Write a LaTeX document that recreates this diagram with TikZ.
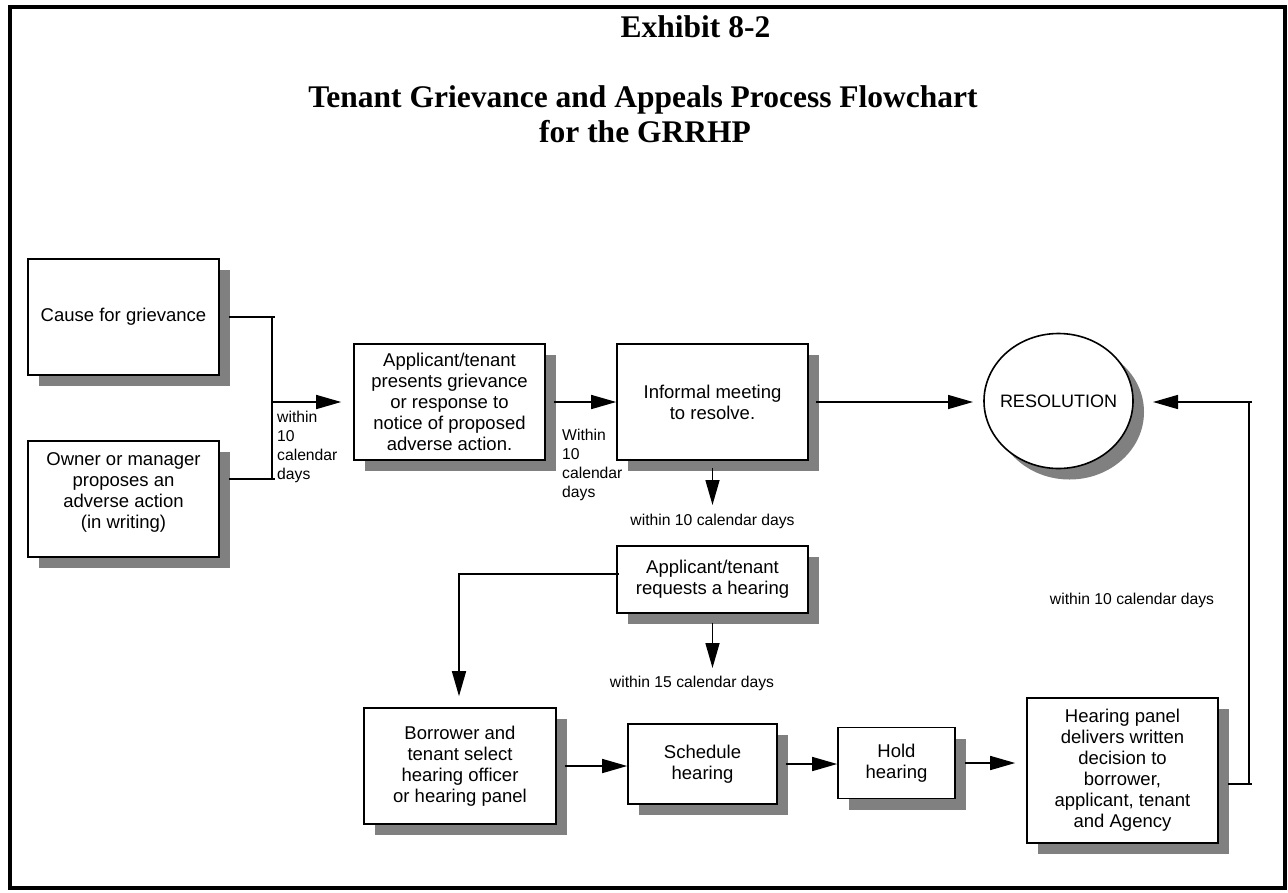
\documentclass[tikz,border=0pt]{standalone}
\usepackage{fontspec}
\setmainfont{Liberation Sans}
\newfontfamily\titlefont{Liberation Serif}
\usetikzlibrary{shadows,arrows.meta,shapes.geometric}
\definecolor{shgray}{RGB}{128,128,128}
\begin{document}
\begin{tikzpicture}[x=1pt,y=-1pt,
  boxbase/.style={draw, line width=1.6pt, fill=white, align=center, inner sep=2pt,
    font=\fontsize{18.5}{21}\selectfont,
    drop shadow={shadow xshift=11pt, shadow yshift=-11pt, fill=shgray, opacity=1, draw=none}},
  box/.style={boxbase, rectangle},
  lbl/.style={inner sep=0pt, font=\fontsize{15.7}{19}\selectfont},
  ttl/.style={inner sep=0pt, font=\titlefont\bfseries\fontsize{31.5}{36}\selectfont},
  conn/.style={line width=1.5pt},
  arr/.style={conn, -{Triangle[length=25pt,width=14pt]}}]
\useasboundingbox (0,0) rectangle (1288,892);
\draw[line width=3.5pt] (10,7) rectangle (1285,888);

% titles
\node[ttl] (t1) at (695.5,27) {Exhibit 8-2};
\node[ttl] (t2) at (643,100) {Tenant Grievance and Appeals Process Flowchart};
\node[ttl] (t3) at (645,132) {for the GRRHP};

% boxes
\node[box, minimum width=191pt, minimum height=116pt] (cause) at (123.5,317) {Cause for grievance};
\node[box, minimum width=191pt, minimum height=116pt] (owner) at (123.5,499) {Owner or manager\\proposes an\\adverse action\\(in writing)\\[-5pt]\mbox{}};
\node[box, minimum width=191pt, minimum height=116pt] (applicant) at (449.5,402) {Applicant/tenant\\presents grievance\\or response to\\notice of proposed\\adverse action.};
\node[box, minimum width=191pt, minimum height=116pt] (informal) at (712.5,402) {Informal meeting\\to resolve.};
\node[boxbase, ellipse, inner xsep=-30pt, inner ysep=0pt, minimum width=149pt, minimum height=135pt, font=\fontsize{18}{21}\selectfont] (resolution) at (1058.5,401) {RESOLUTION};
\node[box, minimum width=191pt, minimum height=67pt] (request) at (712.5,579.5) {Applicant/tenant\\requests a hearing};
\node[box, minimum width=192pt, minimum height=116pt] (borrower) at (460,766) {Borrower and\\tenant select\\hearing officer\\or hearing panel};
\node[box, minimum width=149pt, minimum height=80pt] (schedule) at (702.5,764) {Schedule\\hearing};
\node[box, minimum width=117pt, minimum height=71pt] (hold) at (896.5,763) {Hold\\hearing};
\node[box, minimum width=191pt, minimum height=145pt] (panel) at (1122.5,770.5) {Hearing panel\\delivers written\\decision to\\borrower,\\applicant, tenant\\and Agency};

% labels
\node[lbl, align=left, anchor=west] (l1) at (277,446.5) {within\\10\\calendar\\days};
\node[lbl, align=left, anchor=west] (l2) at (562,465) {Within\\10\\calendar\\days};
\node[lbl] (l10) at (712.5,521) {within 10 calendar days};
\node[lbl] (l15) at (692,683) {within 15 calendar days};
\node[lbl] (lr) at (1132,600) {within 10 calendar days};

% left bracket
\coordinate (j1) at (275,317);
\coordinate (j2) at (275,479);
\coordinate (jm) at (272,402);
\draw[conn] ([xshift=9pt]cause.east) -- (j1);
\draw[conn] ([shift={(9,-20)}]owner.east) -- (j2);
\draw[conn] ([xshift=-3pt]j1) -- ([xshift=-3pt]j2);
\draw[arr, shorten >=12pt] (jm) -- (applicant.west);

% top row
\draw[arr] ([xshift=8pt]applicant.east) -- (informal.west);
\coordinate (rw) at (973,402);
\draw[arr] ([xshift=7pt]informal.east) -- (rw);

% down arrows
\coordinate (t10) at (712.5,505);
\draw[arr] ([yshift=-7pt]informal.south) -- (t10);
\coordinate (t15) at (712.5,668);
\draw[arr] ([yshift=-9pt]request.south) -- (t15);

% request to borrower
\draw[arr] ([shift={(3,-5.5)}]request.west) -| ([shift={(-1,-11)}]borrower.north);

% bottom row
\draw[arr] ([xshift=8pt]borrower.east) -- (schedule.west |- borrower.east);
\draw[arr] ([xshift=8pt]schedule.east) -- (hold.west |- schedule.east);
\draw[arr, shorten >=11pt] ([xshift=9pt]hold.east) -- (panel.west |- hold.east);

% feedback to resolution
\coordinate (r1) at (1252,784);
\coordinate (r2) at (1252,402);
\coordinate (re) at (1153,402);
\draw[conn] ([shift={(9,13.5)}]panel.east) -- (r1);
\draw[conn] ([xshift=-3pt]r1) -- ([xshift=-3pt]r2);
\draw[arr] (r2) -- (re);
\end{tikzpicture}
\end{document}
